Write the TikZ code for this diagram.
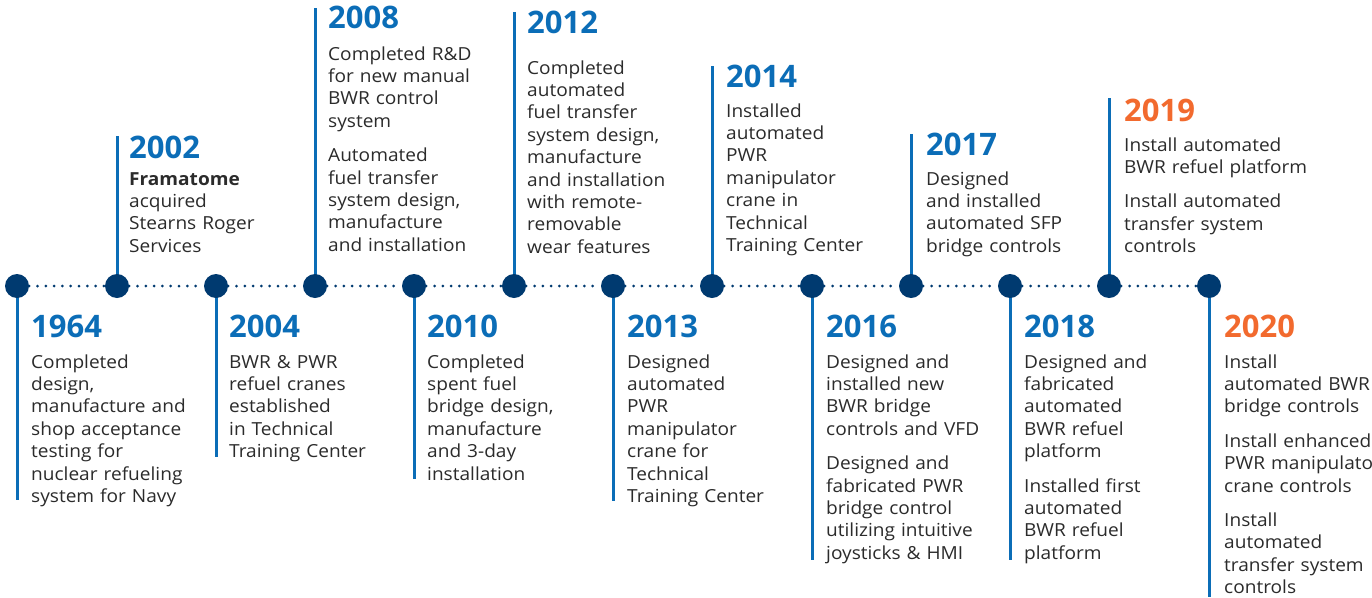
\documentclass[tikz,border=0pt]{standalone}
\usepackage{fontspec}
\setmainfont{Open Sans}
\newfontfamily\descfont{Open Sans}[FakeStretch=1.06]
\definecolor{navy}{HTML}{003A70}
\definecolor{stemblue}{HTML}{0B6DB7}
\definecolor{yearorange}{HTML}{F26A2E}
\definecolor{bodygray}{HTML}{2B2B2B}
\begin{document}
\begin{tikzpicture}[x=1pt,y=-1pt,
  tdot/.style={circle,fill=navy,inner sep=0pt,minimum size=24pt},
  track/.style={navy,line width=3pt,line cap=round,dash pattern=on 0pt off 8.3pt},
  stem/.style={stemblue,line width=3pt},
  yearlbl/.style={anchor=base west,inner sep=0pt,text=stemblue,font=\fontsize{31}{31}\selectfont\bfseries},
  desc/.style={anchor=base west,inner sep=0pt,text=bodygray,text width=220pt,align=left,font=\descfont\fontsize{18}{22.4}\selectfont}]
\useasboundingbox[fill=white] (0,0) rectangle (1372,597);

\coordinate (e1964) at (17,500);
\coordinate (s2002) at (117,136);
\coordinate (e2004) at (216,457);
\coordinate (s2008) at (315,8);
\coordinate (e2010) at (414,479);
\coordinate (s2012) at (514,12);
\coordinate (e2013) at (613,501);
\coordinate (s2014) at (712,66);
\coordinate (e2016) at (812,560);
\coordinate (s2017) at (911,134);
\coordinate (e2018) at (1010,560);
\coordinate (s2019) at (1109,98);
\coordinate (e2020) at (1209,597);

\draw[stem] (17,286) -- (e1964);
\draw[stem] (s2002) -- (117,286);
\draw[stem] (216,286) -- (e2004);
\draw[stem] (s2008) -- (315,286);
\draw[stem] (414,286) -- (e2010);
\draw[stem] (s2012) -- (514,286);
\draw[stem] (613,286) -- (e2013);
\draw[stem] (s2014) -- (712,286);
\draw[stem] (812,286) -- (e2016);
\draw[stem] (s2017) -- (911,286);
\draw[stem] (1010,286) -- (e2018);
\draw[stem] (s2019) -- (1109,286);
\draw[stem] (1209,286) -- (e2020);

\node[tdot] (d1964) at (17,286) {};
\node[tdot] (d2002) at (117,286) {};
\node[tdot] (d2004) at (216,286) {};
\node[tdot] (d2008) at (315,286) {};
\node[tdot] (d2010) at (414,286) {};
\node[tdot] (d2012) at (514,286) {};
\node[tdot] (d2013) at (613,286) {};
\node[tdot] (d2014) at (712,286) {};
\node[tdot] (d2016) at (812,286) {};
\node[tdot] (d2017) at (911,286) {};
\node[tdot] (d2018) at (1010,286) {};
\node[tdot] (d2019) at (1109,286) {};
\node[tdot] (d2020) at (1209,286) {};

\draw[track] (d1964) -- (d2002);
\draw[track] (d2002) -- (d2004);
\draw[track] (d2004) -- (d2008);
\draw[track] (d2008) -- (d2010);
\draw[track] (d2010) -- (d2012);
\draw[track] (d2012) -- (d2013);
\draw[track] (d2013) -- (d2014);
\draw[track] (d2014) -- (d2016);
\draw[track] (d2016) -- (d2017);
\draw[track] (d2017) -- (d2018);
\draw[track] (d2018) -- (d2019);
\draw[track] (d2019) -- (d2020);

\node[yearlbl] (y1964) at (31,337) {1964};
\node[desc] (t1964) at (31,368) {Completed\\design,\\manufacture and\\shop acceptance\\testing for\\nuclear refueling\\system for Navy};

\node[yearlbl] (y2002) at (129,158) {2002};
\node[desc] (t2002) at (129,185) {\textbf{Framatome}\\acquired\\Stearns Roger\\Services};

\node[yearlbl] (y2004) at (229,337) {2004};
\node[desc] (t2004) at (229,368) {BWR \& PWR\\refuel cranes\\established\\in Technical\\Training Center};

\node[yearlbl] (y2008) at (328,28) {2008};
\node[desc] (t2008) at (328,60) {Completed R\&D\\for new manual\\BWR control\\system\\[12pt]Automated\\fuel transfer\\system design,\\manufacture\\and installation};

\node[yearlbl] (y2010) at (427,337) {2010};
\node[desc] (t2010) at (427,368) {Completed\\spent fuel\\bridge design,\\manufacture\\and 3-day\\installation};

\node[yearlbl] (y2012) at (527,33) {2012};
\node[desc] (t2012) at (527,74) {Completed\\automated\\fuel transfer\\system design,\\manufacture\\and installation\\with remote-\\removable\\wear features};

\node[yearlbl] (y2013) at (627,337) {2013};
\node[desc] (t2013) at (627,368) {Designed\\automated\\PWR\\manipulator\\crane for\\Technical\\Training Center};

\node[yearlbl] (y2014) at (726,87) {2014};
\node[desc] (t2014) at (726,117) {Installed\\automated\\PWR\\manipulator\\crane in\\Technical\\Training Center};

\node[yearlbl] (y2016) at (826,337) {2016};
\node[desc] (t2016) at (826,368) {Designed and\\installed new\\BWR bridge\\controls and VFD\\[12pt]Designed and\\fabricated PWR\\bridge control\\utilizing intuitive\\joysticks \& HMI};

\node[yearlbl] (y2017) at (926,155) {2017};
\node[desc] (t2017) at (926,185) {Designed\\and installed\\automated SFP\\bridge controls};

\node[yearlbl] (y2018) at (1024,337) {2018};
\node[desc] (t2018) at (1024,368) {Designed and\\fabricated\\automated\\BWR refuel\\platform\\[12pt]Installed first\\automated\\BWR refuel\\platform};

\node[yearlbl,text=yearorange] (y2019) at (1124,121) {2019};
\node[desc] (t2019) at (1124,151) {Install automated\\BWR refuel platform\\[12pt]Install automated\\transfer system\\controls};

\node[yearlbl,text=yearorange] (y2020) at (1224,337) {2020};
\node[desc] (t2020) at (1224,368) {Install\\automated BWR\\bridge controls\\[12pt]Install enhanced\\PWR manipulator\\crane controls\\[12pt]Install\\automated\\transfer system\\controls};
\end{tikzpicture}
\end{document}
